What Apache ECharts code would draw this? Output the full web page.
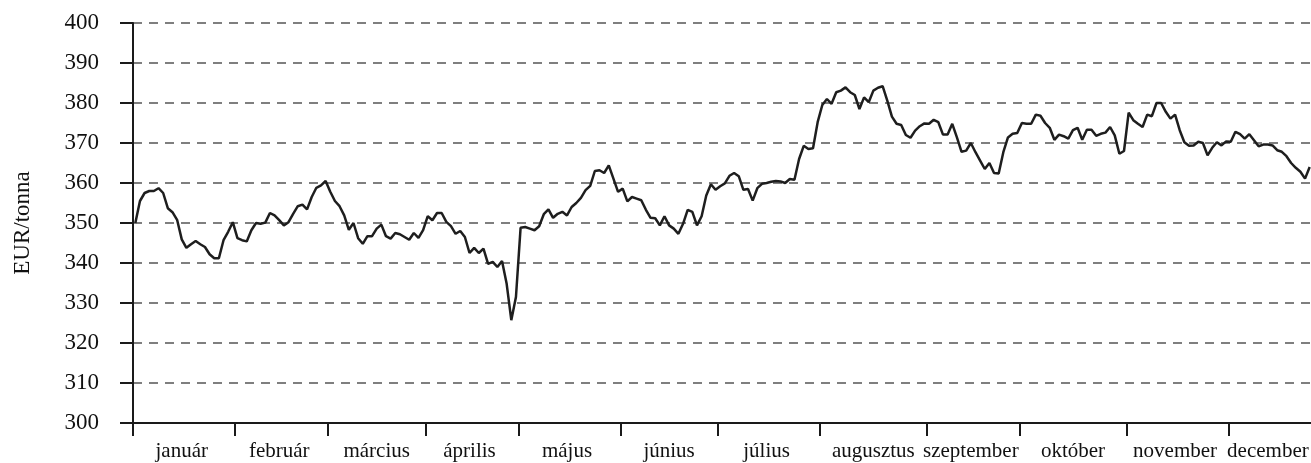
<!DOCTYPE html>
<html lang="hu">
<head>
    <meta charset="UTF-8">
    <title>EUR/tonna</title>
    <script src="https://cdn.jsdelivr.net/npm/echarts@6.0.0/dist/echarts.min.js"></script>
    <style>
        body { margin: 0; background: #fff; }
    </style>
</head>
<body>
    <div id="main" style="width: 1311px;height:463px;"></div>
    <script type="text/javascript">

        // havi napi árak (kereskedési napok)
        const honapok = ['január', 'február', 'március', 'április', 'május', 'június',
            'július', 'augusztus', 'szeptember', 'október', 'november', 'december'];

        const jan = [350, 355.5, 357.5, 358, 358, 358.7, 357.5, 353.7, 352.7, 350.8, 345.9,
            343.8, 344.7, 345.5, 344.7, 344, 342.2, 341.2, 341.2, 345.7, 347.8, 350.2];
        const feb = [346.2, 345.7, 345.4, 348.2, 350, 349.8, 350.1, 352.5, 351.9, 350.7,
            349.4, 350.2, 352.3, 354.2, 354.6, 353.4, 356.5, 358.8, 359.4, 360.5];
        const mar = [357.8, 355.5, 354.2, 351.9, 348.3, 350, 346.2, 344.8, 346.7, 346.7,
            348.6, 349.6, 346.7, 346.1, 347.5, 347.2, 346.5, 345.8, 347.5, 346.3, 348.2];
        const apr = [351.7, 350.7, 352.5, 352.5, 350.3, 349.2, 347.3, 348, 346.5, 342.5,
            343.8, 342.5, 343.6, 339.8, 340.3, 339, 340.5, 334.8, 325.7, 331.5];
        const maj = [348.8, 349, 348.6, 348.2, 349.2, 352.2, 353.4, 351.3, 352.3, 352.8, 351.9,
            354, 355, 356.3, 358.2, 359.3, 363, 363.2, 362.5, 364.4, 361.1, 357.8];
        const jun = [358.6, 355.4, 356.5, 356.1, 355.7, 353.3, 351.3, 351.2, 349.4, 351.7,
            349.4, 348.6, 347.3, 349.8, 353.3, 352.8, 349.4, 351.7, 356.9, 359.7, 358.3];
        const jul = [359.2, 359.9, 361.8, 362.5, 361.7, 358.3, 358.5, 355.6, 358.7, 359.8, 360,
            360.3, 360.5, 360.4, 360, 361, 360.8, 366, 369.3, 368.5, 368.7, 375.2];
        const aug = [379.5, 381, 379.8, 382.7, 383.1, 383.9, 382.7, 382, 378.5, 381.4, 380.2,
            383.1, 383.8, 384.2, 380.6, 376.6, 374.8, 374.5, 372, 371.3, 373.1, 374.2, 374.9];
        const szep = [374.8, 375.8, 375.2, 372.1, 372.1, 374.8, 371.4, 367.8, 368.1, 370,
            367.7, 365.6, 363.5, 365, 362.5, 362.4, 367.7, 371.4, 372.3, 372.5];
        const okt = [375, 374.8, 374.8, 377.1, 376.8, 375, 373.8, 370.8, 372.1, 371.7, 371.1,
            373.2, 373.8, 370.8, 373.3, 373.3, 371.8, 372.3, 372.6, 374, 371.9, 367.3, 368];
        const nov = [377.6, 375.7, 374.8, 374, 377.1, 376.7, 380, 380, 377.8, 376.1, 377.1,
            373.2, 370.2, 369.3, 369.4, 370.3, 370, 366.9, 368.8, 370.2, 369.4, 370.4];
        const dec = [370.3, 372.8, 372.2, 371.1, 372.2, 370.7, 369.2, 369.6, 369.6, 369.4,
            368.2, 367.8, 366.7, 365, 363.8, 362.8, 361.1, 364];

        const yTengely = { min: 300, max: 400, interval: 10 };

        var chartDom = document.getElementById('main');
        var myChart = echarts.init(chartDom);
        var option;

        // kategóriák összerakása: hónap kezdete -> osztásjel, hónap közepe -> felirat
        const haviAdat = [jan, feb, mar, apr, maj, jun, jul, aug, szep, okt, nov, dec];
        const kategoriak = [];
        const ertekek = [];
        const kezdoIndex = {};
        const feliratIndex = {};
        haviAdat.forEach(function (honap, h) {
            kezdoIndex[ertekek.length] = true;
            feliratIndex[ertekek.length + Math.floor((honap.length - 1) / 2)] = honapok[h];
            honap.forEach(function (v, d) {
                kategoriak.push(honapok[h] + ' ' + (d + 1));
                ertekek.push(v);
            });
        });

        const betu = 'Liberation Serif';

        option = {
            animation: false,
            textStyle: { fontFamily: betu },
            grid: {
                left: 133,
                right: -1,   // a december vége kilóg a képből, mint az eredetin
                top: 23,
                bottom: 40,
                outerBoundsMode: 'none'
            },
            xAxis: {
                type: 'category',
                data: kategoriak,
                boundaryGap: true,
                axisLine: { lineStyle: { color: '#1a1a1a', width: 2 } },
                axisTick: {
                    show: true,
                    alignWithLabel: false,
                    length: 13,
                    lineStyle: { color: '#1a1a1a', width: 2 },
                    interval: function (index) {
                        return kezdoIndex[index] === true;
                    }
                },
                axisLabel: {
                    margin: 18,
                    color: '#111',
                    fontFamily: betu,
                    fontSize: 21,
                    interval: function (index) {
                        return feliratIndex[index] !== undefined;
                    },
                    formatter: function (value, index) {
                        return feliratIndex[index] || '';
                    }
                },
                splitLine: { show: false }
            },
            yAxis: {
                type: 'value',
                min: yTengely.min,
                max: yTengely.max,
                interval: yTengely.interval,
                name: 'EUR/tonna',
                nameLocation: 'middle',
                nameGap: 99,
                nameTextStyle: { color: '#111', fontFamily: betu, fontSize: 23 },
                axisLine: { show: true, lineStyle: { color: '#1a1a1a', width: 2 } },
                axisTick: { show: true, length: 13, lineStyle: { color: '#1a1a1a', width: 2 } },
                axisLabel: { margin: 34, color: '#111', fontFamily: betu, fontSize: 23 },
                splitLine: {
                    lineStyle: { color: '#555', width: 1.5, type: [9, 7] }
                }
            },
            series: [{
                type: 'line',
                data: ertekek,
                showSymbol: false,
                lineStyle: { color: '#1e1e1e', width: 2.5 }
            }]
        };

        option && myChart.setOption(option);

    </script>
</body>
</html>
